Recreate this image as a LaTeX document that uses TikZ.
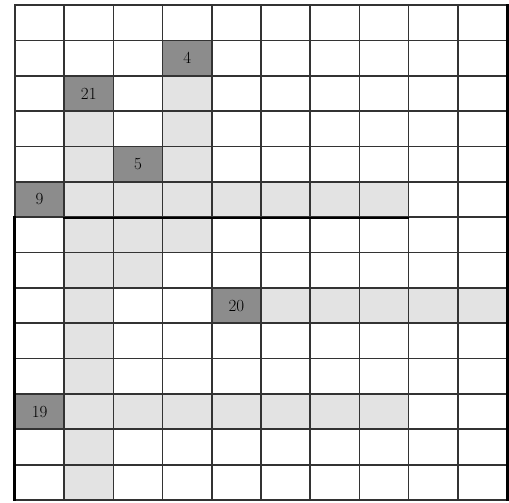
\documentclass[tikz,border=0pt]{standalone}
\begin{document}
\begin{tikzpicture}[x=1pt,y=-1pt,
  cellbox/.style={draw=black!80, line width=1.7pt, minimum width=49.2pt,
    minimum height=35.36pt, inner sep=0pt, fill=white},
  pathcell/.style={cellbox, fill=black!11},
  cluecell/.style={cellbox, fill=black!45, font=\fontsize{17}{19}\selectfont},
  heavy/.style={line width=2.8pt, draw=black}
]
\useasboundingbox (0,0) rectangle (509,503);
\fill[white] (0,0) rectangle (509,503);
% base grid
\foreach \r in {0,...,13}{
  \foreach \c in {0,...,9}{
    \node[cellbox] (g\r-\c) at ({15+49.2*(\c+0.5)},{5+35.36*(\r+0.5)}) {};
  }
}
% path cells
\foreach \r/\c in {2/3,3/3,4/3,5/3,6/3,
  3/1,4/1,5/1,6/1,7/1,8/1,9/1,10/1,11/1,12/1,13/1,
  5/2,6/2,7/2,
  5/4,5/5,5/6,5/7,
  8/5,8/6,8/7,8/8,8/9,
  11/2,11/3,11/4,11/5,11/6,11/7}{
  \node[pathcell] (p\r-\c) at (g\r-\c) {};
}
% clue cells
\node[cluecell] (k4) at (g1-3) {4};
\node[cluecell] (k21) at (g2-1) {21};
\node[cluecell] (k5) at (g4-2) {5};
\node[cluecell] (k9) at (g5-0) {9};
\node[cluecell] (k20) at (g8-4) {20};
\node[cluecell] (k19) at (g11-0) {19};
% heavy edges
\draw[heavy] (g5-1.south west) -- (g5-7.south east);
\draw[heavy] (g6-0.north west) -- (g13-0.south west);
\draw[heavy] (g0-9.north east) -- (g13-9.south east);
\end{tikzpicture}
\end{document}
